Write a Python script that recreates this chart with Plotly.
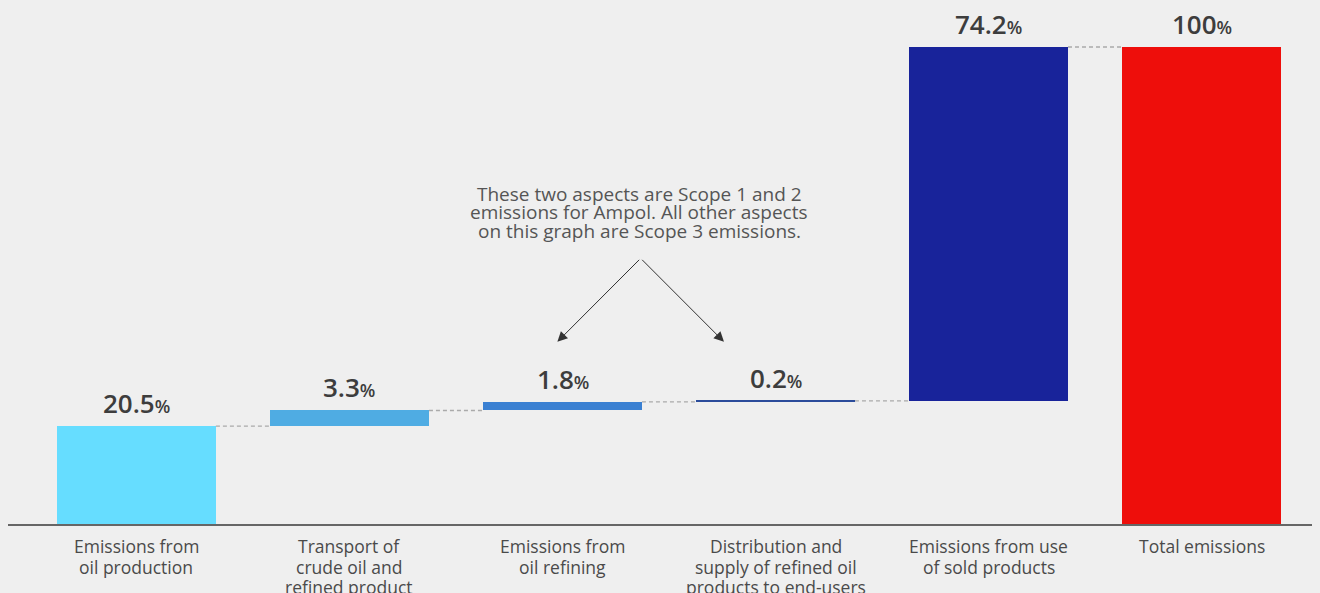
import plotly.graph_objects as go

categories = [
    "Emissions from<br>oil production",
    "Transport of<br>crude oil and<br>refined product",
    "Emissions from<br>oil refining",
    "Distribution and<br>supply of refined oil<br>products to end-users",
    "Emissions from use<br>of sold products",
    "Total emissions",
]
values = [20.5, 3.3, 1.8, 0.2, 74.2, 100]
is_total = [False, False, False, False, False, True]
value_labels = ["20.5", "3.3", "1.8", "0.2", "74.2", "100"]
colors = ["#66DDFF", "#4FACE3", "#3A80D2", "#2B4C9B", "#18239A", "#EE0E0B"]

note_lines = [
    "These two aspects are Scope 1 and 2",
    "emissions for Ampol. All other aspects",
    "on this graph are Scope 3 emissions.",
]

BG = "#efefef"

# waterfall bases
bases = []
running = 0.0
for v, t in zip(values, is_total):
    if t:
        bases.append(0.0)
    else:
        bases.append(running)
        running += v
tops = [b + v for b, v in zip(bases, values)]

xs = list(range(len(categories)))
bar_w = 0.746

fig = go.Figure()
fig.add_trace(go.Bar(
    x=xs, y=values, base=bases, width=bar_w,
    marker=dict(color=colors, line=dict(width=0)),
    hoverinfo="skip", showlegend=False,
))

FONT = "Open Sans"
# value labels
for i, (t, lab) in enumerate(zip(tops, value_labels)):
    fig.add_annotation(
        x=i, y=t, xref="x", yref="y", yanchor="bottom", yshift=3,
        text=f"{lab}<span style='font-size:18px'>%</span>",
        showarrow=False,
        font=dict(family=FONT, size=26, color="#3d3d3d", weight=600),
    )

# category labels (one annotation per line, for tight line spacing)
for i, cat in enumerate(categories):
    for k, line in enumerate(cat.split("<br>")):
        fig.add_annotation(
            x=i, y=0, xref="x", yref="paper", yanchor="middle",
            yshift=-(22 + 20.5 * k), text=line, showarrow=False,
            font=dict(family=FONT, size=17.5, color="#4a4a4a"),
        )

# dashed connectors
for i in range(len(values) - 1):
    level = tops[i]
    fig.add_shape(
        type="line", xref="x", yref="y",
        x0=i + bar_w / 2, x1=i + 1 - bar_w / 2, y0=level, y1=level,
        line=dict(color="#aaaaaa", width=1.3, dash="4px,3px"),
    )

# note (one annotation per line for tight line spacing)
for k, line in enumerate(note_lines):
    fig.add_annotation(
        x=2.36, y=69.2 - 3.85 * k, xref="x", yref="y", text=line, showarrow=False,
        font=dict(family=FONT, size=19, color="#555555"), align="center",
        yanchor="middle",
    )
for hx in (1.976, 2.758):
    fig.add_annotation(
        x=hx, y=38.2, ax=2.367, ay=55.7, xref="x", yref="y",
        axref="x", ayref="y", text="", showarrow=True,
        arrowhead=2, arrowsize=2, arrowwidth=1, arrowcolor="#333333",
    )

fig.update_layout(
    width=1312, height=585,
    paper_bgcolor=BG, plot_bgcolor=BG,
    margin=dict(l=0, r=0, t=0, b=69, autoexpand=False),
    bargap=0,
    font=dict(family=FONT, color="#555555"),
)
fig.update_xaxes(
    range=[-0.603, 5.556], tickmode="array", tickvals=xs,
    showticklabels=False,
    showline=True, linecolor="#666666", linewidth=2, showgrid=False,
    zeroline=False, ticks="", automargin=False,
    fixedrange=True,
)
fig.update_yaxes(range=[0, 108.18], visible=False, showgrid=False, fixedrange=True)

fig.write_html("out.html", post_script=f"document.body.style.background='{BG}';")
